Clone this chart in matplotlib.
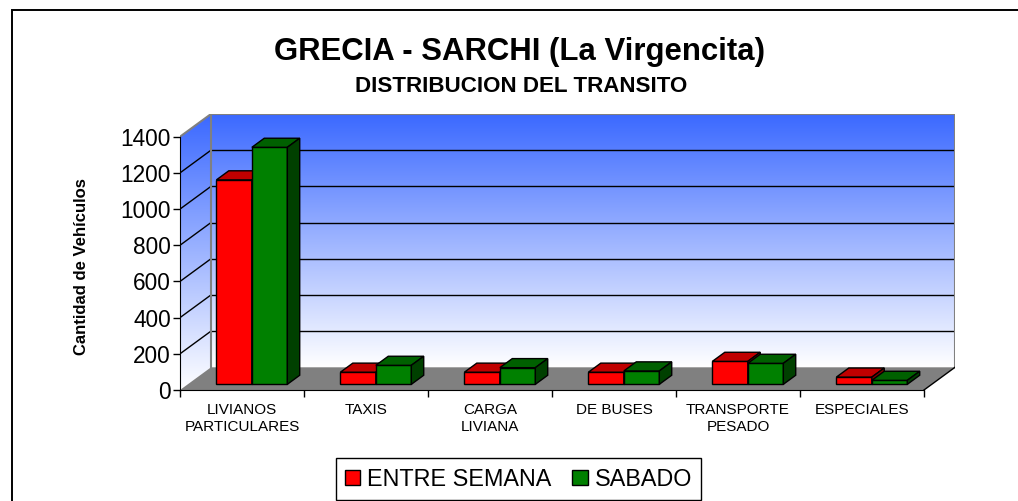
import matplotlib
matplotlib.use('Agg')
import matplotlib.pyplot as plt
import numpy as np
from matplotlib.patches import Polygon, Patch, Rectangle

categories = ["LIVIANOS\nPARTICULARES", "TAXIS", "CARGA\nLIVIANA",
              "DE BUSES", "TRANSPORTE\nPESADO", "ESPECIALES"]
entre_semana = [1130, 67, 67, 67, 127, 40]
sabado = [1310, 105, 92, 74, 116, 22]
series_names = ["ENTRE SEMANA", "SABADO"]
yticks = [0, 200, 400, 600, 800, 1000, 1200, 1400]
title = "GRECIA - SARCHI (La Virgencita)"
subtitle = "DISTRIBUCION DEL TRANSITO"
ylabel = "Cantidad de Vehículos"

plt.rcParams['font.family'] = ['Liberation Sans', 'DejaVu Sans']

FW, FH = 1018, 501
fig = plt.figure(figsize=(FW / 100, FH / 100), dpi=100)
fig.patch.set_facecolor('white')

# layout (pixels)
AX_L, AX_R, AX_T, AX_B = 180, 955, 114, 390
CAT_PX = 124.0
VAL_PX = 253.3  # pixels for ymax on front plane
ax = fig.add_axes([AX_L / FW, (FH - AX_B) / FH, (AX_R - AX_L) / FW, (AX_B - AX_T) / FH])
ax.set_facecolor('none')

NC = len(categories)
YMAX = yticks[-1]
DX = (AX_R - AX_L) / CAT_PX - NC
DY = YMAX * (AX_B - AX_T) / VAL_PX - YMAX

# gradient image
top_c = np.array([0.23, 0.41, 1.0])
bot_c = np.array([1.0, 1.0, 1.0])
t = np.linspace(0, 1, 256).reshape(-1, 1, 1)
grad = bot_c * (1 - t) + top_c * t
grad = np.repeat(grad, 2, axis=1)

# back wall
ax.imshow(grad, origin='lower', aspect='auto',
          extent=[DX, NC + DX, DY, YMAX + DY], zorder=0, interpolation='bilinear')
# left wall
lw_poly = Polygon([(0, 0), (DX, DY), (DX, YMAX + DY), (0, YMAX)], closed=True,
                  facecolor='none', edgecolor='none')
ax.add_patch(lw_poly)
im2 = ax.imshow(grad, origin='lower', aspect='auto',
                extent=[0, DX, 0, YMAX + DY], zorder=0, interpolation='bilinear')
im2.set_clip_path(lw_poly)
ax.set_xlim(0, NC + DX)
ax.set_ylim(0, YMAX + DY)

# floor
ax.add_patch(Polygon([(0, 0), (NC, 0), (NC + DX, DY), (DX, DY)], closed=True,
                     facecolor='#808080', edgecolor='none', zorder=1))
ax.plot([NC, NC + DX], [0, DY], color='black', lw=1.0, zorder=1.5)

# gridlines
for v in yticks[1:-1]:
    ax.plot([DX, NC + DX], [v + DY, v + DY], color='black', lw=1.0, zorder=1)
    ax.plot([0, DX], [v, v + DY], color='black', lw=1.0, zorder=1)
# wall borders
gray = '#808080'
ax.plot([0, DX, NC + DX, NC + DX], [YMAX, YMAX + DY, YMAX + DY, DY], color=gray, lw=1.5, zorder=1.2)
ax.plot([DX, DX], [DY, YMAX + DY], color=gray, lw=1.5, zorder=1.2)

# bars
F0, FD = 0.25, 0.40
bx0, by0 = F0 * DX, F0 * DY
bdx, bdy = FD * DX, FD * DY
W = 0.286
XOFF = 0.517 - W
fronts = ['#FF0000', '#008000']
tops = ['#C00000', '#006000']
sides = ['#800000', '#004000']
series = [entre_semana, sabado]
for i in range(NC):
    for s, vals in enumerate(series):
        v = vals[i]
        x = i + XOFF + bx0 + s * W
        z = 3 + i * 0.1 + s * 0.03
        ax.bar([x], [v], width=W, bottom=by0, align='edge', color=fronts[s],
               edgecolor='black', linewidth=1.0, zorder=z)
        yt = by0 + v
        ax.add_patch(Polygon([(x, yt), (x + W, yt), (x + W + bdx, yt + bdy), (x + bdx, yt + bdy)],
                             closed=True, facecolor=tops[s], edgecolor='black', lw=1.0, zorder=z))
        ax.add_patch(Polygon([(x + W, by0), (x + W + bdx, by0 + bdy), (x + W + bdx, yt + bdy), (x + W, yt)],
                             closed=True, facecolor=sides[s], edgecolor='black', lw=1.0, zorder=z))

# axes
for sp in ['top', 'right']:
    ax.spines[sp].set_visible(False)
ax.spines['left'].set_bounds(0, YMAX)
ax.spines['bottom'].set_bounds(0, NC)
ax.spines['left'].set_zorder(5)
ax.spines['bottom'].set_zorder(5)
ax.set_yticks(yticks)
ax.set_yticklabels([str(v) for v in yticks])
ax.tick_params(axis='y', length=5, width=1, direction='out', labelsize=16.3, pad=1.5)
ax.set_xticks(np.arange(NC + 1))
ax.set_xticklabels([])
ax.set_xticks(np.arange(NC) + 0.5, minor=True)
ax.set_xticklabels(categories, minor=True, fontsize=11, linespacing=1.3)
ax.tick_params(axis='x', which='major', length=5, width=1, direction='out')
ax.tick_params(axis='x', which='minor', length=0, pad=9)

# texts
fig.text(520 / FW, 1 - 60 / FH, title, ha='center', va='baseline',
         fontsize=22.4, fontweight='bold')
fig.text(521 / FW, 1 - 91.7 / FH, subtitle, ha='center', va='baseline',
         fontsize=16.1, fontweight='bold')
fig.text(82 / FW, 1 - 267 / FH, ylabel, rotation=90, ha='center', va='center',
         fontsize=12, fontweight='bold')

# legend
handles = [Patch(facecolor=fronts[0], edgecolor='black'),
           Patch(facecolor=fronts[1], edgecolor='black')]
leg = fig.legend(handles, series_names, loc='center', bbox_to_anchor=(518.4 / FW, 1 - 479.3 / FH),
                 ncol=2, frameon=True, fancybox=False, edgecolor='black', framealpha=1,
                 fontsize=16.8, handlelength=0.65, handleheight=0.65, handletextpad=0.3,
                 columnspacing=0.9, borderpad=0.4, borderaxespad=0)
leg.get_frame().set_linewidth(1.0)

# outer border
fig.add_artist(Rectangle((12 / FW, -0.2), 1.5, (1 - 10 / FH) + 0.2, transform=fig.transFigure,
                         fill=False, edgecolor='black', lw=1.4))

fig.savefig('out.png', dpi=100)
